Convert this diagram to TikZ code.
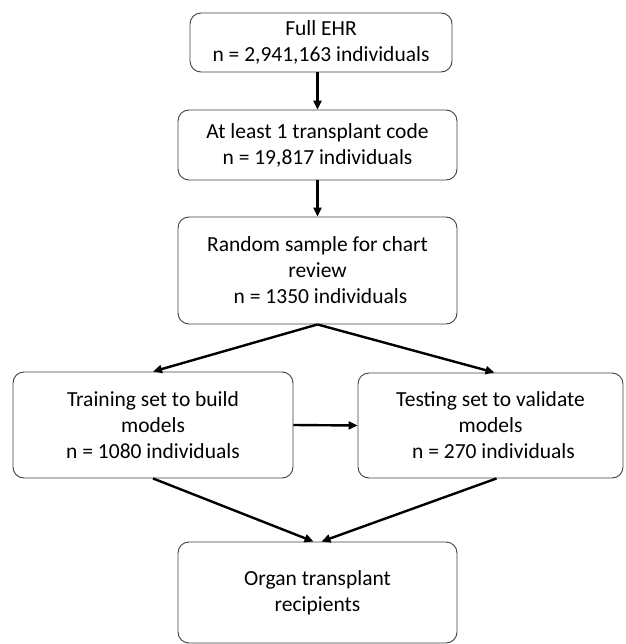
\documentclass[tikz,border=0pt]{standalone}
\usepackage{fontspec}
\setmainfont{Carlito}
\usetikzlibrary{arrows.meta, positioning}

\tikzset{
  stagebox/.style={draw=black!75, line width=0.9pt, rounded corners=11pt,
    align=center, inner sep=0pt, font=\fontsize{21.5}{26}\selectfont},
  flowarrow/.style={line width=2.4pt, -{Triangle[length=9pt,width=8pt]}}
}

\begin{document}
\begin{tikzpicture}[x=1pt, y=-1pt]
\useasboundingbox (0,0) rectangle (625,644);
% boxes
\node[stagebox, minimum width=262pt, minimum height=59pt] (ehr) at (321,42.5)
  {Full EHR\\n = 2,941,163 individuals};
\node[stagebox, minimum width=279pt, minimum height=70pt] (code) at (317.5,145)
  {At least 1 transplant code\\n = 19,817 individuals};
\node[stagebox, minimum width=279pt, minimum height=107pt] (sample) at (317.5,270.5)
  {Random sample for chart\\review\\ \hspace*{6pt}n = 1350 individuals};
\node[stagebox, minimum width=280pt, minimum height=106pt] (train) at (153,425)
  {Training set to build\\models\\n = 1080 individuals};
\node[stagebox, minimum width=265pt, minimum height=105pt] (test) at (490.5,425.5)
  {Testing set to validate\\models\\ \hspace*{6pt}n = 270 individuals};
\node[stagebox, minimum width=279pt, minimum height=101pt] (organ) at (317.5,592.5)
  {Organ transplant\\recipients};
% arrows
\draw[flowarrow] (ehr.south -| code.north) -- (code.north);
\draw[flowarrow] (code) -- (sample);
\draw[flowarrow] (sample.south) -- (train.north);
\draw[flowarrow] (sample.south) -- ([xshift=4pt]test.north);
\draw[flowarrow] (train.east) -- (test.west);
\draw[flowarrow] (train.south) -- ([xshift=-4pt]organ.north);
\draw[flowarrow] ([xshift=6pt]test.south) -- ([xshift=4pt]organ.north);
\end{tikzpicture}
\end{document}
